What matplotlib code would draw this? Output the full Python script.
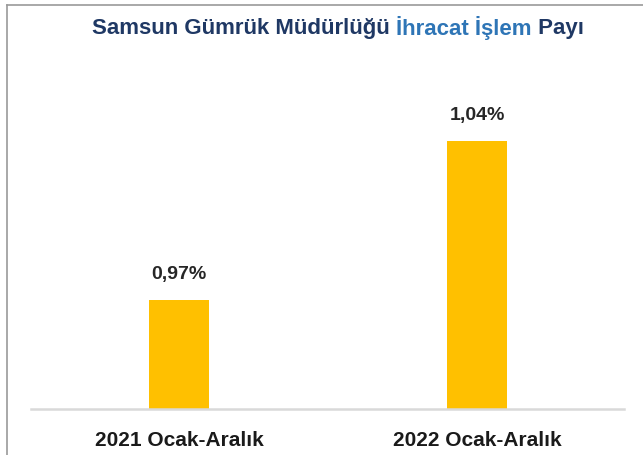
import matplotlib.pyplot as plt
from matplotlib.lines import Line2D

# chart data
categories = ['2021 Ocak-Aralık', '2022 Ocak-Aralık']
values = [0.97, 1.04]
value_labels = ['0,97%', '1,04%']

title_parts = ['Samsun Gümrük Müdürlüğü ', 'İhracat İşlem', ' Payı']
title_colors = ['#1F3864', '#2E75B6', '#1F3864']

plt.rcParams['font.family'] = ['Liberation Sans', 'DejaVu Sans']

fig = plt.figure(figsize=(6.43, 4.55), dpi=100)
ax = fig.add_axes([0.048, 0.101, 0.9225, 0.789])

x = range(len(categories))
bars = ax.bar(x, values, width=0.2, color='#FFC000', zorder=2)

ax.set_ylim(0.922, 1.08)
ax.set_xlim(-0.497, 1.493)

# value labels above bars
for rect, lab in zip(bars, value_labels):
    ax.annotate(lab, (rect.get_x() + rect.get_width() / 2, rect.get_height()),
                xytext=(0, 12), textcoords='offset points', ha='center', va='bottom',
                fontsize=14, fontweight='bold', color='#262626')

ax.set_xticks(list(x))
ax.set_xticklabels(categories, fontsize=15, fontweight='bold', color='#1a1a1a')
ax.tick_params(axis='x', length=0, pad=16)
ax.set_yticks([])
for s in ['top', 'right', 'left']:
    ax.spines[s].set_visible(False)
ax.spines['bottom'].set_color('#D9D9D9')
ax.spines['bottom'].set_linewidth(1.8)

# title in several colours, laid out piece by piece
fig.canvas.draw()
renderer = fig.canvas.get_renderer()
pieces = []
total_w = 0
for part, col in zip(title_parts, title_colors):
    t = fig.text(0, 0.938, part, fontsize=16, fontweight='bold', color=col, va='center')
    w = t.get_window_extent(renderer).width
    pieces.append((t, w))
    total_w += w
start = 338 - total_w / 2
for t, w in pieces:
    t.set_x(start / fig.bbox.width)
    start += w

# thin frame on the left and top edge
fig.add_artist(Line2D([6.5 / 643, 6.5 / 643], [0, 1 - 4.5 / 455], color='#9A9A9A', lw=1.2))
fig.add_artist(Line2D([6.5 / 643, 1], [1 - 4.5 / 455, 1 - 4.5 / 455], color='#9A9A9A', lw=1.2))

fig.savefig('out.png', dpi=100)
